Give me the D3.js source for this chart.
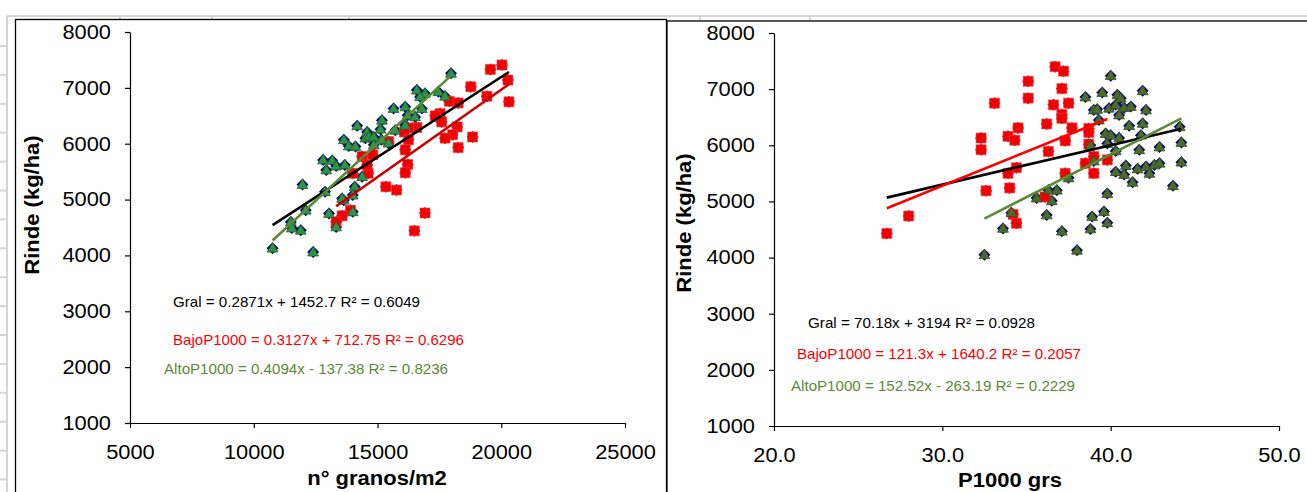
<!DOCTYPE html>
<html><head><meta charset="utf-8">
<script src="https://cdn.jsdelivr.net/npm/d3@7"></script>
<style>
html,body{margin:0;padding:0;background:#fff;}
svg{display:block;font-family:"Liberation Sans",Arial,sans-serif;}
</style></head>
<body>
<svg id="c" width="1307" height="492"></svg>
<script>
// ---------------- DATA ----------------
// Left chart: n° granos/m2 vs Rinde
const granosAlto = [10760,12400,11500,11900,12100,11540,11970,12880,13040,13330,12800,13170,12930,13330,13680,13640,13840,14180,14110,14580,14510,14650,14080,14000,14380,13640,14000,15180,15120,14850,15160,15450,15650,16120,16220,16520,16790,16590,16920,17460,17730,17970,16120,15720,16720,14850,13570];
const rindeAltoG  = [4130,4060,4600,4450,4810,4490,5270,5140,4750,4510,5710,5700,5530,5600,5620,6070,5960,6320,5950,6210,6100,6120,5230,5080,5410,4990,4780,6420,6260,6120,6070,6010,6630,6660,6510,6480,6630,6960,6900,6930,6850,7260,6330,6240,6840,5980,5020];
const granosBajo = [19560,20030,20270,20310,19420,18770,17900,18260,17530,17330,17590,18220,18030,17730,18840,18260,16590,16250,16090,16250,16120,16220,16120,15450,14380,14810,14620,14000,15340,15770,16920,16490,13910,13570,13330,14580];
const rindeBajoG  = [7330,7410,7140,6750,6850,7020,6760,6730,6540,6500,6390,6300,6160,6100,6120,5930,6290,6280,6210,6070,5890,5630,5480,6040,5770,5800,5470,5470,5230,5170,4760,4440,4810,4710,4600,5620];
// Right chart: P1000 grs vs Rinde
const p1000Bajo = [26.7,28.0,32.3,32.3,32.6,33.1,36.7,37.2,35.1,37.1,35.1,36.6,37.5,37.1,37.1,36.2,34.5,37.7,33.9,34.3,37.3,38.7,38.7,36.3,38.7,34.4,33.9,38.5,34.0,37.3,39.0,36.1,34.2,34.4,39.8,39.0];
const rindeBajoP = [4430,4740,6130,5920,5190,6750,7400,7320,7140,7010,6840,6720,6750,6550,6480,6380,6310,6310,6160,6090,6080,6300,6230,5890,6020,5600,5500,5680,5240,5500,5500,5080,4770,4610,5740,5800];
const p1000Alto = [32.5,38.5,39.0,38.8,37.5,36.8,36.3,35.6,36.5,34.1,36.2,38.9,33.6,37.1,38.8,38.0,39.5,39.2,39.3,39.8,39.6,39.8,40.0,40.4,40.6,41.9,39.9,40.3,40.8,41.2,40.5,42.1,41.1,41.9,44.1,39.7,40.0,40.5,41.8,39.8,41.7,40.3,42.9,44.2,39.0,40.9,41.6,42.1,42.6,42.9,44.2,40.3,40.8,42.3,41.3,43.7];
const rindeAltoP = [4050,6860,6630,6000,5420,5200,5200,5060,5010,4800,4760,4730,4520,4470,4510,4130,6940,6640,6450,5140,4820,4620,7240,6900,6840,6970,6660,6720,6670,6690,6540,6630,6350,6390,6330,6210,6180,6130,6180,6030,5920,5900,5970,6050,5720,5640,5580,5620,5650,5680,5700,5530,5480,5500,5340,5280];
// Trend line coefficients [slope, intercept]
const trendL = {gral:[0.2871,1452.7], bajo:[0.3127,712.75], alto:[0.4094,-137.38]};
const trendR = {gral:[70.18,3194], bajo:[121.3,1640.2], alto:[152.52,-263.19]};
const eqL = ["Gral = 0.2871x + 1452.7 R² = 0.6049","BajoP1000 = 0.3127x + 712.75 R² = 0.6296","AltoP1000 = 0.4094x - 137.38 R² = 0.8236"];
const eqR = ["Gral = 70.18x + 3194 R² = 0.0928","BajoP1000 = 121.3x + 1640.2 R² = 0.2057","AltoP1000 = 152.52x - 263.19 R² = 0.2229"];
const yTicks = [1000,2000,3000,4000,5000,6000,7000,8000];
const xTicksL = [5000,10000,15000,20000,25000];
const xTicksR = [20,30,40,50];
const xTitleL = "n° granos/m2", xTitleR = "P1000 grs", yTitle = "Rinde (kg/ha)";

// ---------------- DRAW ----------------
const svg = d3.select("#c");
const grid = "#d4d4d4";
// spreadsheet background lines
svg.append("line").attr("x1",7).attr("x2",1307).attr("y1",16).attr("y2",16).attr("stroke",grid).attr("stroke-width",2);
svg.append("line").attr("x1",7).attr("x2",7).attr("y1",16).attr("y2",492).attr("stroke",grid).attr("stroke-width",2);
for(let y=46;y<492;y+=28.9){
  svg.append("line").attr("x1",0).attr("x2",7).attr("y1",y).attr("y2",y).attr("stroke",grid).attr("stroke-width",2);
}
[120,212,349,700,810].forEach(x=>{
  svg.append("line").attr("x1",x).attr("x2",x).attr("y1",16).attr("y2",21).attr("stroke",grid).attr("stroke-width",2);
});
// chart frames
svg.append("rect").attr("x",15.5).attr("y",19.5).attr("width",651).attr("height",500).attr("fill","#fff").attr("stroke","#000").attr("stroke-width",1.3);
svg.append("rect").attr("x",667).attr("y",21).attr("width",660).attr("height",500).attr("fill","#fff").attr("stroke","#000").attr("stroke-width",1.3);

function widen(sel,k){
  sel.each(function(){
    const w=this.getComputedTextLength();
    d3.select(this).attr("textLength",w*k).attr("lengthAdjust","spacingAndGlyphs");
  });
}

const diamond = "M0,-6L6,0L0,6L-6,0Z";
const square = "M-5,-5H5V5H-5Z";
const tri = "M0,-5.6L5.4,3.9L-5.4,3.9Z";

function chart(cfg){
  const g = svg.append("g");
  const x = d3.scaleLinear().domain(cfg.xDom).range(cfg.xRange);
  const y = d3.scaleLinear().domain([1000,8000]).range(cfg.yRange);
  // axes
  const ya = g.append("g").attr("transform",`translate(${cfg.xRange[0]},0)`)
    .call(d3.axisLeft(y).tickValues(yTicks).tickSize(5).tickSizeOuter(0).tickPadding(14).tickFormat(d3.format("d")));
  const xa = g.append("g").attr("transform",`translate(0,${cfg.yRange[0]})`)
    .call(d3.axisBottom(x).tickValues(cfg.xTicks).tickSize(5).tickSizeOuter(0).tickPadding(17).tickFormat(cfg.xFmt));
  [ya,xa].forEach(a=>{
    a.select(".domain").attr("stroke","#000").attr("stroke-width",1.2);
    a.selectAll(".tick line").attr("stroke","#000").attr("stroke-width",1.2);
    a.selectAll("text").attr("fill","#000").style("font-size","20px").style("font-family","'Liberation Sans',Arial,sans-serif");
    widen(a.selectAll("text"),1.09);
  });
  // titles
  const xt = g.append("text").attr("x",cfg.xTitlePos[0]).attr("y",cfg.xTitlePos[1]).attr("text-anchor","middle")
    .attr("font-weight","bold").attr("font-size",20).text(cfg.xTitle);
  widen(xt,1.1);
  const yt = g.append("text").attr("transform",`translate(${cfg.yTitlePos[0]},${cfg.yTitlePos[1]}) rotate(-90)`)
    .attr("text-anchor","middle").attr("font-weight","bold").attr("font-size",20).text(yTitle);
  widen(yt,1.1);
  // markers
  const all = cfg.bx.map((v,i)=>[v,cfg.by[i]]).concat(cfg.ax.map((v,i)=>[v,cfg.ay[i]]));
  g.append("g").selectAll("path").data(all).join("path")
    .attr("d",diamond).attr("transform",d=>`translate(${x(d[0])},${y(d[1])})`).attr("fill","#000080");
  g.append("g").selectAll("path").data(cfg.bx.map((v,i)=>[v,cfg.by[i]])).join("path")
    .attr("d",square).attr("transform",d=>`translate(${x(d[0])},${y(d[1])})`).attr("fill","#f00000").attr("stroke","#ff4040").attr("stroke-width",0.6);
  g.append("g").selectAll("path").data(cfg.ax.map((v,i)=>[v,cfg.ay[i]])).join("path")
    .attr("d",tri).attr("transform",d=>`translate(${x(d[0])},${y(d[1])})`).attr("fill",cfg.triFill).attr("stroke",cfg.triStroke).attr("stroke-width",0.8);
  // trend lines
  const lines = [
    {c:cfg.trend.gral, ext:d3.extent(all,d=>d[0]), col:"#000"},
    {c:cfg.trend.bajo, ext:d3.extent(cfg.bx), col:cfg.redLine},
    {c:cfg.trend.alto, ext:d3.extent(cfg.ax), col:"#5b8a36"}
  ];
  lines.forEach(l=>{
    g.append("line").attr("x1",x(l.ext[0])).attr("y1",y(l.c[0]*l.ext[0]+l.c[1]))
      .attr("x2",x(l.ext[1])).attr("y2",y(l.c[0]*l.ext[1]+l.c[1]))
      .attr("stroke",l.col).attr("stroke-width",2.6);
  });
  // equations
  const cols = ["#000","#ff0000","#5b8a36"];
  cfg.eqs.forEach((t,i)=>{
    const p = cfg.eqPos[i];
    g.append("text").attr("x",p[0]).attr("y",p[1]).attr("font-size",15).attr("fill",cols[i])
      .attr("textLength",p[2]).attr("lengthAdjust","spacingAndGlyphs").text(t);
  });
}

chart({
  xDom:[5000,25000], xRange:[130,625], yRange:[423,32], xTicks:xTicksL, xFmt:d3.format("d"),
  bx:granosBajo, by:rindeBajoG, ax:granosAlto, ay:rindeAltoG, trend:trendL,
  triFill:"#2f9445", triStroke:"#1e5e2a", redLine:"#c80000",
  xTitle:xTitleL, xTitlePos:[377,485], yTitlePos:[39,205],
  eqs:eqL, eqPos:[[173,307,247],[173,345,291],[164,374,284]]
});
chart({
  xDom:[20,50], xRange:[774,1279], yRange:[426,33], xTicks:xTicksR, xFmt:d3.format(".1f"),
  bx:p1000Bajo, by:rindeBajoP, ax:p1000Alto, ay:rindeAltoP, trend:trendR,
  triFill:"#4c6b2c", triStroke:"#34501c", redLine:"#ff0000",
  xTitle:xTitleR, xTitlePos:[1010,487], yTitlePos:[691,223],
  eqs:eqR, eqPos:[[808,328,227],[797,359,284],[791,391,284]]
});
</script>
</body></html>
